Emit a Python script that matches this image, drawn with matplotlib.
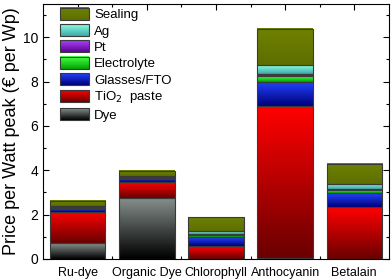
import numpy as np
import matplotlib
matplotlib.use("Agg")
import matplotlib.pyplot as plt
from matplotlib.colors import LinearSegmentedColormap, to_rgb
from matplotlib.patches import Rectangle
from matplotlib.legend_handler import HandlerBase
from matplotlib.ticker import MultipleLocator, FixedLocator

plt.rcParams['font.family'] = ['Liberation Sans', 'DejaVu Sans']

categories = ["Ru-dye", "Organic Dye", "Chlorophyll", "Anthocyanin", "Betalain"]
components = ["Dye", "TiO$_2$  paste", "Glasses/FTO", "Electrolyte", "Pt", "Ag", "Sealing"]
dye =         [0.71, 2.77, 0.02, 0.05, 0.02]
tio2 =        [1.40, 0.70, 0.58, 6.84, 2.32]
glasses =     [0.14, 0.14, 0.38, 1.11, 0.63]
electrolyte = [0.05, 0.05, 0.10, 0.25, 0.13]
pt =          [0.03, 0.03, 0.03, 0.08, 0.05]
ag =          [0.05, 0.05, 0.17, 0.40, 0.23]
sealing =     [0.24, 0.24, 0.63, 1.66, 0.92]
series = [dye, tio2, glasses, electrolyte, pt, ag, sealing]

# (top colour, bottom colour) for the vertical gradients
grads = [("#87918d", "#000000"),
         ("#ff0000", "#6a0000"),
         ("#2244ff", "#00007a"),
         ("#44ff44", "#00a000"),
         ("#aa44ff", "#5a0090"),
         ("#88ffe0", "#3fa8a8"),
         ("#6f8100", "#5e6e00")]
edge = "#3a3a3a"

fig = plt.figure(figsize=(3.92, 2.79), dpi=100)
ax = fig.add_axes([0.110, 0.0717, 0.882, 0.914])

x = np.arange(len(categories))
width = 0.8
bottom = np.zeros(len(categories))
for vals, (ctop, cbot), lab in zip(series, grads, components):
    bars = ax.bar(x, vals, width, bottom=bottom, color="none",
                  edgecolor=edge, linewidth=0.8, label=lab, zorder=3)
    cmap = LinearSegmentedColormap.from_list("g", [cbot, ctop])
    grad = np.linspace(0, 1, 64).reshape(-1, 1)
    for b in bars:
        x0, y0 = b.get_x(), b.get_y()
        w, h = b.get_width(), b.get_height()
        if h <= 0:
            continue
        ax.imshow(grad, cmap=cmap, origin="lower", aspect="auto",
                  extent=[x0, x0 + w, y0, y0 + h], zorder=2,
                  interpolation="bilinear")
    bottom += np.array(vals)

ax.set_xlim(-0.5, len(categories) - 0.5)
ax.set_ylim(0, 11.5)
ax.set_xticks(x)
ax.set_xticklabels(categories, fontsize=9)
ax.xaxis.set_minor_locator(FixedLocator(x[:-1] + 0.5))
ax.yaxis.set_major_locator(MultipleLocator(2))
ax.yaxis.set_minor_locator(MultipleLocator(1))
ax.tick_params(which="both", direction="in", top=True, right=True)
ax.tick_params(which="major", length=4, width=0.8, labelsize=10)
ax.tick_params(axis="x", which="major", labelsize=9, pad=6)
ax.tick_params(which="minor", length=2, width=0.8)
ax.set_ylabel("Price per Watt peak (€ per Wp)", fontsize=13, labelpad=2)
for s in ax.spines.values():
    s.set_linewidth(0.8)


class GradHandler(HandlerBase):
    def __init__(self, ctop, cbot):
        super().__init__()
        self.ctop = np.array(to_rgb(ctop))
        self.cbot = np.array(to_rgb(cbot))

    def create_artists(self, legend, orig_handle, xdescent, ydescent,
                       width, height, fontsize, trans):
        arts = []
        n = 12
        for i in range(n):
            t = (i + 0.5) / n
            c = self.cbot * (1 - t) + self.ctop * t
            r = Rectangle((-xdescent, -ydescent + height * i / n), width,
                          height / n + 0.3, facecolor=c, edgecolor="none",
                          transform=trans)
            arts.append(r)
        arts.append(Rectangle((-xdescent, -ydescent), width, height,
                              facecolor="none", edgecolor=edge, lw=0.8,
                              transform=trans))
        return arts


handles, labels = ax.get_legend_handles_labels()
hmap = {h: GradHandler(*g) for h, g in zip(handles, grads)}
leg = ax.legend(handles[::-1], labels[::-1], handler_map=hmap,
                loc="upper left", bbox_to_anchor=(0.05, 0.985), frameon=False,
                fontsize=9.5, handlelength=2.2, handleheight=1.0,
                labelspacing=0.22, handletextpad=0.35, borderpad=0,
                borderaxespad=0)

fig.savefig("out.png", dpi=100)
